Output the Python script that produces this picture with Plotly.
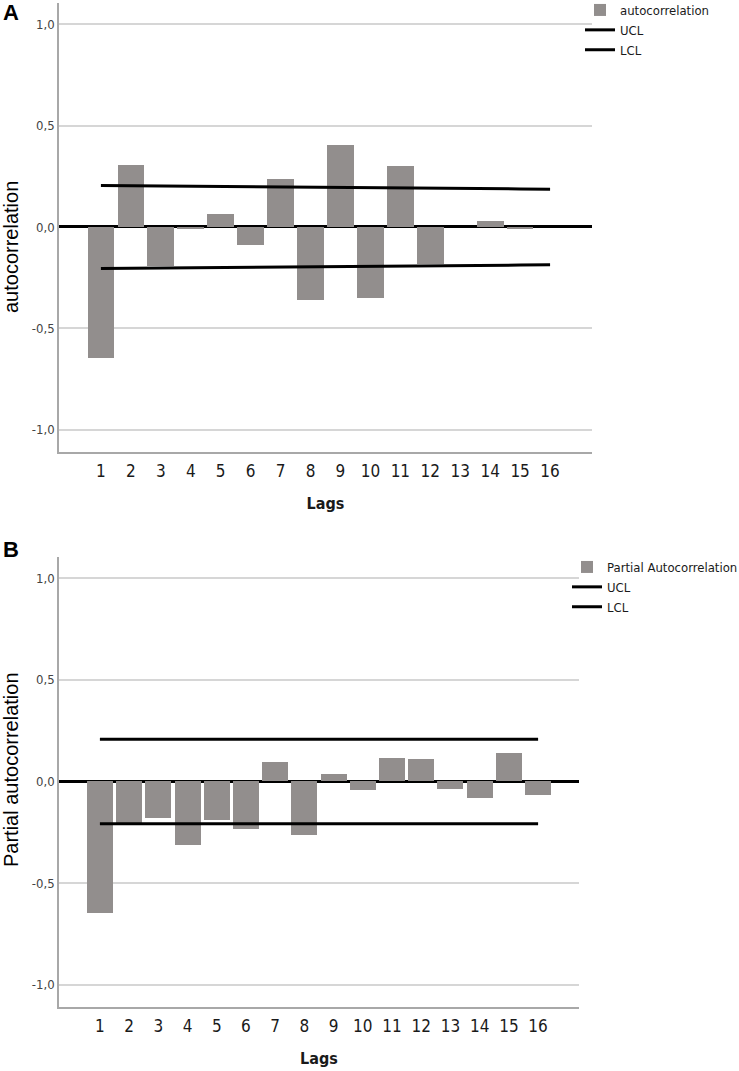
import plotly.graph_objects as go

# lags shown on the x axis
lags = [1, 2, 3, 4, 5, 6, 7, 8, 9, 10, 11, 12, 13, 14, 15, 16]
lag_labels = ['1', '2', '3', '4', '5', '6', '7', '8', '9', '10', '11', '12', '13', '14', '15', '16']

# panel A - autocorrelation and its confidence limits
acf = [-0.648, 0.306, -0.194, -0.01, 0.066, -0.087, 0.235, -0.359,
       0.403, -0.349, 0.302, -0.181, 0.0, 0.03, -0.01, 0.0]
acf_ucl = [0.205, 0.204, 0.203, 0.202, 0.201, 0.200, 0.199, 0.198,
           0.197, 0.195, 0.194, 0.193, 0.191, 0.190, 0.188, 0.186]
acf_lcl = [-0.205, -0.204, -0.203, -0.202, -0.201, -0.200, -0.199, -0.198,
           -0.197, -0.195, -0.194, -0.193, -0.191, -0.190, -0.188, -0.186]

# panel B - partial autocorrelation and its confidence limits
pacf = [-0.648, -0.205, -0.179, -0.311, -0.188, -0.234, 0.094, -0.265,
        0.039, -0.04, 0.118, 0.113, -0.035, -0.082, 0.141, -0.066]
pacf_ucl = [0.208, 0.208, 0.208, 0.208, 0.208, 0.208, 0.208, 0.208,
            0.208, 0.208, 0.208, 0.208, 0.208, 0.208, 0.208, 0.208]
pacf_lcl = [-0.208, -0.208, -0.208, -0.208, -0.208, -0.208, -0.208, -0.208,
            -0.208, -0.208, -0.208, -0.208, -0.208, -0.208, -0.208, -0.208]

y_ticks = [-1.0, -0.5, 0.0, 0.5, 1.0]
y_tick_labels = ['-1,0', '-0,5', '0,0', '0,5', '1,0']

W, H = 739, 1071
BAR = '#928e8d'
NARROW = 'Liberation Sans Narrow, DejaVu Sans Condensed, Roboto Condensed, Liberation Sans, sans-serif'
PLAIN = 'Liberation Sans, Arial, sans-serif'

fig = go.Figure()


def add_panel(fig, vals, ucl, lcl, name, xa, ya, leg):
    fig.add_trace(go.Bar(x=lags, y=vals, name=name, width=0.89,
                         marker=dict(color=BAR, line=dict(width=0)),
                         xaxis=xa, yaxis=ya, legend=leg))
    fig.add_trace(go.Scatter(x=lags, y=ucl, mode='lines', name='UCL',
                             line=dict(color='black', width=3),
                             xaxis=xa, yaxis=ya, legend=leg))
    fig.add_trace(go.Scatter(x=lags, y=lcl, mode='lines', name='LCL',
                             line=dict(color='black', width=3),
                             xaxis=xa, yaxis=ya, legend=leg))


add_panel(fig, acf, acf_ucl, acf_lcl, 'autocorrelation', 'x', 'y', 'legend')
add_panel(fig, pacf, pacf_ucl, pacf_lcl, 'Partial Autocorrelation', 'x2', 'y2', 'legend2')


def xax(domain, anchor):
    return dict(domain=domain, anchor=anchor, range=[-0.4, 17.4],
                automargin=False,
                tickvals=lags, ticktext=lag_labels, ticks='',
                ticklabelstandoff=3,
                showgrid=False, zeroline=False,
                showline=True, linecolor='#a8a8a8', linewidth=1.5,
                tickfont=dict(family=NARROW, size=17, color='#1a1a1a'),
                title=dict(text='<b>Lags</b>', standoff=18,
                           font=dict(family=NARROW, size=16, color='#1a1a1a')))


def yax(domain, anchor):
    return dict(domain=domain, anchor=anchor, range=[-1.11, 1.105],
                automargin=False,
                tickvals=y_ticks, ticktext=y_tick_labels, ticks='',
                showgrid=True, gridcolor='#d6d6d6', gridwidth=1.5,
                zeroline=True, zerolinecolor='black', zerolinewidth=3,
                showline=True, linecolor='#a8a8a8', linewidth=1.5,
                tickfont=dict(family=NARROW, size=13, color='#444444'))


legend_style = dict(xanchor='left', yanchor='top', bgcolor='rgba(0,0,0,0)',
                    tracegroupgap=0, itemwidth=30,
                    font=dict(family=NARROW, size=13, color='#1a1a1a'))


def label(text, x, y, size, angle=0, xanchor='center', yanchor='middle'):
    return dict(text=text, x=x / W, y=1 - y / H, xref='paper', yref='paper',
                xanchor=xanchor, yanchor=yanchor, textangle=angle,
                showarrow=False, font=dict(family=PLAIN, size=size, color='black'))


fig.update_layout(
    width=W, height=H,
    paper_bgcolor='white', plot_bgcolor='white',
    margin=dict(l=0, r=0, t=0, b=0, autoexpand=False),
    bargap=0,
    xaxis=xax([59 / W, 592 / W], 'y'),
    yaxis=yax([1 - 452 / H, 1 - 3 / H], 'x'),
    xaxis2=xax([59 / W, 579 / W], 'y2'),
    yaxis2=yax([1 - 1007 / H, 1 - 557 / H], 'x2'),
    legend=dict(x=580 / W, y=1 + 5 / H, **legend_style),
    legend2=dict(x=567 / W, y=1 - 552 / H, **legend_style),
    annotations=[
        label('<b>A</b>', 1, -2, 22, xanchor='left', yanchor='top'),
        label('<b>B</b>', 1, 535, 22, xanchor='left', yanchor='top'),
        label('autocorrelation', 11, 247, 20, angle=-90),
        label('Partial autocorrelation', 11, 770, 20, angle=-90),
    ],
)

# the page body keeps the browser's default 8px margin otherwise
fig.write_html('out.html', config={'displayModeBar': False},
               post_script="document.body.style.margin = '0px';")
